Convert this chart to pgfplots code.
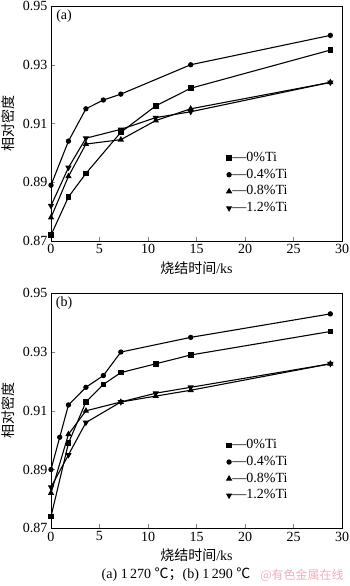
\documentclass[border=0pt]{standalone}
\usepackage{pgfplots}
\pgfplotsset{compat=1.18}
\usepackage{fontspec}
\setmainfont{Liberation Serif}
\newfontfamily\cjk{Noto Sans CJK SC}
\definecolor{wm}{RGB}{238,175,188}
\pgfplotsset{
  myaxis/.style={
    scale only axis, width=291bp, height=235bp,
    xmin=0, xmax=30, ymin=0.87, ymax=0.95,
    xtick={0,5,...,30}, ytick={0.87,0.89,...,0.951},
    tick align=inside, xtick pos=left, ytick pos=left,
    major tick length=4bp,
    axis line style={line width=0.7pt},
    /pgf/number format/assume math mode=true,
    yticklabel style={/pgf/number format/fixed, /pgf/number format/precision=2, /pgf/number format/fixed zerofill},
    xticklabel style={/pgf/number format/fixed},
    xlabel={{\cjk 烧结时间}/ks},
    ylabel={\cjk 相对密度},
    xlabel style={at={(axis description cs:0.5,-0.115)}, anchor=center},
    ylabel style={at={(axis description cs:-0.148,0.5)}, anchor=center},
    every axis plot/.append style={black, line width=1.1pt},
    legend cell align=left,
    legend image code/.code={\draw[#1, only marks] plot coordinates {(0.1cm,0cm)};},
    legend style={draw=none, fill=none, at={(rel axis cs:0.6,0.39)}, anchor=north west,
      row sep=1.7bp, inner sep=1pt, nodes={inner sep=1pt, text height=10bp, text depth=3bp}},
  },
  sq/.style={mark=square*, mark size=2.3pt},
  ci/.style={mark=*, mark size=2.1pt},
  tu/.style={mark=triangle*, mark size=2.6pt},
  td/.style={mark=triangle*, mark size=2.6pt, mark options={rotate=180}},
}
\begin{document}
\begin{tikzpicture}[font=\fontsize{14bp}{16bp}\selectfont]
\useasboundingbox (-51bp,-345bp) rectangle (299bp,241bp);
\begin{axis}[myaxis, at={(0bp,0bp)}, anchor=south west]
\addplot[sq] coordinates {(0,0.872)(1.8,0.885)(3.6,0.893)(7.2,0.907)(10.8,0.916)(14.4,0.922)(28.8,0.935)};
\addlegendentry{—0\%Ti}
\addplot[ci] coordinates {(0,0.889)(1.8,0.904)(3.6,0.915)(5.4,0.918)(7.2,0.920)(14.4,0.930)(28.8,0.940)};
\addlegendentry{—0.4\%Ti}
\addplot[tu] coordinates {(0,0.878)(1.8,0.892)(3.6,0.903)(7.2,0.9045)(10.8,0.911)(14.4,0.915)(28.8,0.924)};
\addlegendentry{—0.8\%Ti}
\addplot[td] coordinates {(0,0.882)(1.8,0.895)(3.6,0.905)(7.2,0.908)(10.8,0.912)(14.4,0.914)(28.8,0.924)};
\addlegendentry{—1.2\%Ti}
\node[anchor=center] at (rel axis cs:0.045,0.957) {(a)};
\end{axis}
\begin{axis}[myaxis, at={(0bp,-287.3bp)}, anchor=south west]
\addplot[sq] coordinates {(0,0.874)(1.8,0.899)(3.6,0.913)(5.4,0.919)(7.2,0.923)(10.8,0.926)(14.4,0.929)(28.8,0.937)};
\addlegendentry{—0\%Ti}
\addplot[ci] coordinates {(0,0.890)(0.9,0.901)(1.8,0.912)(3.6,0.918)(5.4,0.922)(7.2,0.930)(14.4,0.935)(28.8,0.943)};
\addlegendentry{—0.4\%Ti}
\addplot[tu] coordinates {(0,0.882)(1.8,0.902)(3.6,0.910)(7.2,0.913)(10.8,0.915)(14.4,0.917)(28.8,0.926)};
\addlegendentry{—0.8\%Ti}
\addplot[td] coordinates {(0,0.884)(1.8,0.895)(3.6,0.906)(7.2,0.913)(10.8,0.916)(14.4,0.918)(28.8,0.926)};
\addlegendentry{—1.2\%Ti}
\node[anchor=center] at (rel axis cs:0.045,0.957) {(b)};
\end{axis}
\node at (125bp,-334bp) {(a) 1\,270 {\cjk ℃}{\cjk ；}(b) 1\,290 {\cjk ℃}};
\node[text=wm, font=\fontsize{12bp}{14bp}\cjk] at (251bp,-334bp) {@有色金属在线};
\end{tikzpicture}
\end{document}
